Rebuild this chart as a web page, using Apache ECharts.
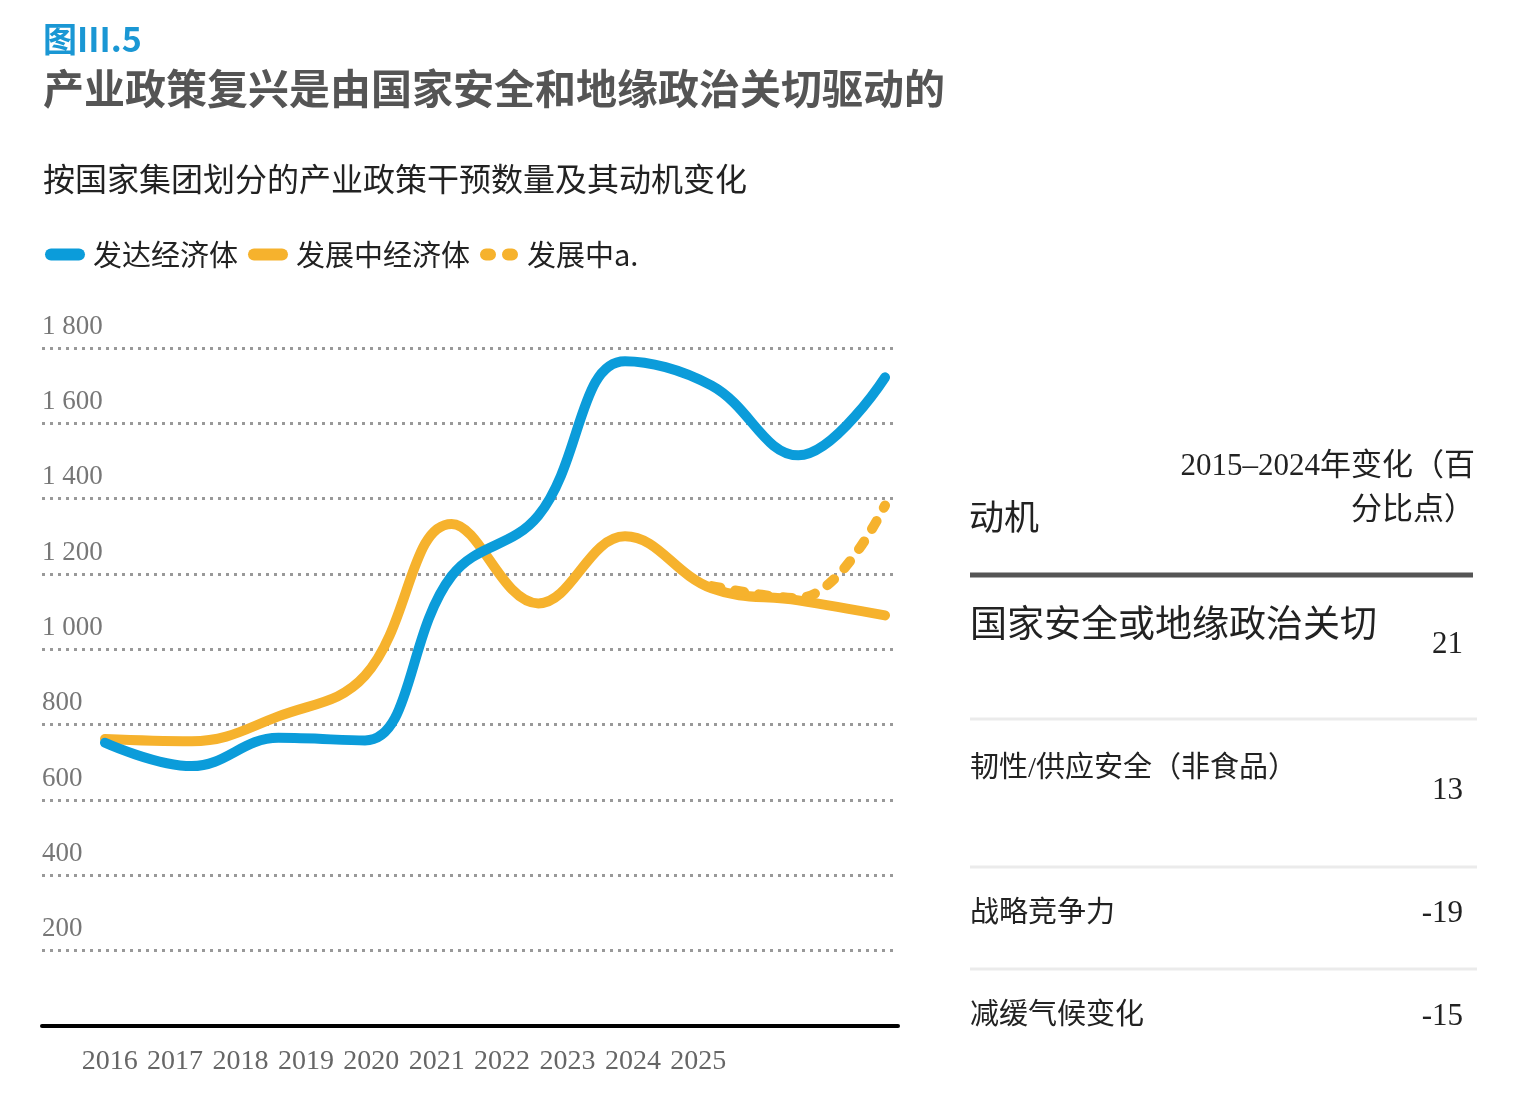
<!DOCTYPE html>
<html>
<head>
<meta charset="utf-8">
<script src="https://cdn.jsdelivr.net/npm/echarts@6/dist/echarts.min.js"></script>
<style>
  html, body { margin: 0; padding: 0; background: #fff; }
  #chart { width: 1517px; height: 1105px; }
</style>
</head>
<body>
<div id="chart"></div>
<script>
// data
const years = ['2016', '2017', '2018', '2019', '2020', '2021', '2022', '2023', '2024', '2025']
const developed = [752, 690, 765, 758, 1195, 1355, 1765, 1700, 1515, 1722]
const developing = [762, 756, 822, 930, 1333, 1122, 1300, 1162, 1130, 1090]
const developingA = [null, null, null, null, null, null, null, 1168, 1136, 1382]
const yTicks = [200, 400, 600, 800, 1000, 1200, 1400, 1600, 1800]

const motives = ['国家安全或地缘政治关切', '韧性/供应安全（非食品）', '战略竞争力', '减缓气候变化']
const changes = ['21', '13', '-19', '-15']

const BLUE = '#0b9cda'
const ORANGE = '#f6b22d'
const SERIF = "'Liberation Serif', 'Noto Sans CJK SC', serif"
const SANS = "'Noto Sans CJK SC', 'Noto Sans', sans-serif"

const fmt = v => v >= 1000 ? String(v).replace(/(\d)(\d{3})$/, '$1 $2') : String(v)

// table on the right, built from motives / changes
const rowLabelY = [627, 769, 914, 1016]
const rowValueY = [645, 791, 914, 1017]
const rowSize = [37, 29, 29, 29]
const sepY = [719, 867, 969]
const table = []
table.push({ type: 'text', left: 969, top: 499, style: { text: '动机', font: '35px ' + SANS, fill: '#222' } })
table.push({ type: 'text', right: 1517 - 1475, top: 451, style: { text: '2015–2024年变化（百', font: '31px ' + SERIF, fill: '#222', textAlign: 'right' } })
table.push({ type: 'text', right: 1517 - 1475, top: 495, style: { text: '分比点）', font: '31px ' + SERIF, fill: '#222', textAlign: 'right' } })
table.push({ type: 'line', shape: { x1: 970, y1: 575, x2: 1473, y2: 575 }, style: { stroke: '#555', lineWidth: 5 } })
motives.forEach((m, i) => {
  table.push({ type: 'text', x: 970, y: rowLabelY[i], style: { text: m, font: rowSize[i] + 'px ' + SERIF, fill: '#222', textVerticalAlign: 'middle' } })
  table.push({ type: 'text', x: 1463, y: rowValueY[i], style: { text: changes[i], font: '31px ' + SERIF, fill: '#222', textAlign: 'right', textVerticalAlign: 'middle' } })
})
sepY.forEach(y => {
  table.push({ type: 'line', shape: { x1: 970, y1: y, x2: 1477, y2: y }, style: { stroke: '#ebebeb', lineWidth: 3 } })
})

const pill = 'path://M6,0 H34 A6,6 0 0,1 34,12 H6 A6,6 0 0,1 6,0 Z'
const dots = 'path://M6,0 H10 A6,6 0 0,1 10,12 H6 A6,6 0 0,1 6,0 Z M28,0 H32 A6,6 0 0,1 32,12 H28 A6,6 0 0,1 28,0 Z'

const chart = echarts.init(document.getElementById('chart'))
chart.setOption({
  animation: false,
  backgroundColor: '#fff',
  title: [
    { text: '图III.5', left: 38, top: 17, textStyle: { fontFamily: SANS, fontSize: 34, fontWeight: 'bold', color: '#1a97d4' } },
    { text: '产业政策复兴是由国家安全和地缘政治关切驱动的', left: 38, top: 63, textStyle: { fontFamily: SANS, fontSize: 41, fontWeight: 'bold', color: '#555' } },
    { text: '按国家集团划分的产业政策干预数量及其动机变化', left: 38, top: 158, textStyle: { fontFamily: SANS, fontSize: 32, fontWeight: 'normal', color: '#222' } }
  ],
  legend: {
    left: 40,
    top: 235,
    itemWidth: 42,
    itemHeight: 12,
    itemGap: 10,
    textStyle: { fontFamily: SANS, fontSize: 29, color: '#222', padding: [0, 0, 0, 2] },
    data: [
      { name: '发达经济体', icon: pill },
      { name: '发展中经济体', icon: pill },
      { name: '发展中a.', icon: dots }
    ]
  },
  graphic: table,
  grid: [
    { left: 42, right: 619, top: 348, bottom: 79 },
    { left: 105, right: 632, top: 348, bottom: 79 },
    { left: 77, width: 654, top: 348, bottom: 79 }
  ],
  xAxis: [
    {
      gridIndex: 0, type: 'category', data: years,
      axisLine: { show: true, lineStyle: { color: '#000', width: 4 } },
      axisTick: { show: false }, axisLabel: { show: false }, splitLine: { show: false }
    },
    { gridIndex: 1, type: 'category', data: years, boundaryGap: false, show: false },
    {
      gridIndex: 2, type: 'category', data: years, boundaryGap: true,
      axisLine: { show: false }, axisTick: { show: false },
      axisLabel: { interval: 0, hideOverlap: false, margin: 22, fontFamily: SERIF, fontSize: 28, color: '#666' }
    }
  ],
  yAxis: [
    {
      gridIndex: 0, type: 'value', min: 0, max: 1800, interval: 200,
      axisLine: { show: false }, axisTick: { show: false },
      axisLabel: {
        inside: true, margin: 0, verticalAlign: 'bottom', padding: [0, 0, 8, 0],
        fontFamily: SERIF, fontSize: 27, color: '#777',
        formatter: v => yTicks.includes(v) ? fmt(v) : ''
      },
      splitLine: { show: true, lineStyle: { color: '#999', width: 3, type: [3, 5] } }
    },
    { gridIndex: 1, type: 'value', min: 0, max: 1800, show: false },
    { gridIndex: 2, type: 'value', min: 0, max: 1800, show: false }
  ],
  series: [
    {
      name: '发展中a.', type: 'line', xAxisIndex: 1, yAxisIndex: 1,
      data: developingA, smooth: 0.4, symbol: 'none', color: ORANGE,
      lineStyle: { color: ORANGE, width: 10, type: [9, 15], cap: 'round' }, z: 3
    },
    {
      name: '发展中经济体', type: 'line', xAxisIndex: 1, yAxisIndex: 1,
      data: developing, smooth: 0.4, symbol: 'none', color: ORANGE,
      lineStyle: { color: ORANGE, width: 10, cap: 'round', join: 'round' }, z: 2
    },
    {
      name: '发达经济体', type: 'line', xAxisIndex: 1, yAxisIndex: 1,
      data: developed, smooth: 0.4, symbol: 'none', color: BLUE,
      lineStyle: { color: BLUE, width: 10, cap: 'round', join: 'round' }, z: 2
    }
  ]
})
</script>
</body>
</html>
